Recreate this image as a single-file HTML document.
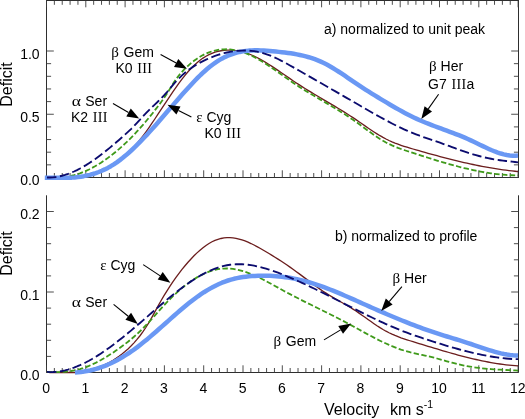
<!DOCTYPE html>
<html><head><meta charset="utf-8"><title>Deficit vs Velocity</title>
<style>html,body{margin:0;padding:0;background:#fff;}body{width:525px;height:419px;overflow:hidden;font-family:"Liberation Sans",sans-serif;}svg{display:block;}</style>
</head><body>
<svg width="525" height="419" viewBox="0 0 525 419" style="will-change:transform">
<rect width="525" height="419" fill="#fff"/>
<g>
<g stroke="#2e2e2e" stroke-width="1" fill="none">
<rect x="46.5" y="0.5" width="472.0" height="177.0"/>
<path d="M46.5,195.3 V372.5 H518.5 V195.3"/>
</g>
<g stroke="#3a3a3a" stroke-width="0.9" fill="none">
<line x1="46.50" y1="177.50" x2="46.50" y2="170.30"/>
<line x1="46.50" y1="0.50" x2="46.50" y2="7.30"/>
<line x1="46.50" y1="372.50" x2="46.50" y2="365.30"/>
<line x1="54.36" y1="177.50" x2="54.36" y2="173.00"/>
<line x1="54.36" y1="0.50" x2="54.36" y2="4.80"/>
<line x1="54.36" y1="372.50" x2="54.36" y2="368.00"/>
<line x1="62.22" y1="177.50" x2="62.22" y2="173.00"/>
<line x1="62.22" y1="0.50" x2="62.22" y2="4.80"/>
<line x1="62.22" y1="372.50" x2="62.22" y2="368.00"/>
<line x1="70.08" y1="177.50" x2="70.08" y2="173.00"/>
<line x1="70.08" y1="0.50" x2="70.08" y2="4.80"/>
<line x1="70.08" y1="372.50" x2="70.08" y2="368.00"/>
<line x1="77.94" y1="177.50" x2="77.94" y2="173.00"/>
<line x1="77.94" y1="0.50" x2="77.94" y2="4.80"/>
<line x1="77.94" y1="372.50" x2="77.94" y2="368.00"/>
<line x1="85.80" y1="177.50" x2="85.80" y2="170.30"/>
<line x1="85.80" y1="0.50" x2="85.80" y2="7.30"/>
<line x1="85.80" y1="372.50" x2="85.80" y2="365.30"/>
<line x1="93.66" y1="177.50" x2="93.66" y2="173.00"/>
<line x1="93.66" y1="0.50" x2="93.66" y2="4.80"/>
<line x1="93.66" y1="372.50" x2="93.66" y2="368.00"/>
<line x1="101.52" y1="177.50" x2="101.52" y2="173.00"/>
<line x1="101.52" y1="0.50" x2="101.52" y2="4.80"/>
<line x1="101.52" y1="372.50" x2="101.52" y2="368.00"/>
<line x1="109.38" y1="177.50" x2="109.38" y2="173.00"/>
<line x1="109.38" y1="0.50" x2="109.38" y2="4.80"/>
<line x1="109.38" y1="372.50" x2="109.38" y2="368.00"/>
<line x1="117.24" y1="177.50" x2="117.24" y2="173.00"/>
<line x1="117.24" y1="0.50" x2="117.24" y2="4.80"/>
<line x1="117.24" y1="372.50" x2="117.24" y2="368.00"/>
<line x1="125.10" y1="177.50" x2="125.10" y2="170.30"/>
<line x1="125.10" y1="0.50" x2="125.10" y2="7.30"/>
<line x1="125.10" y1="372.50" x2="125.10" y2="365.30"/>
<line x1="132.96" y1="177.50" x2="132.96" y2="173.00"/>
<line x1="132.96" y1="0.50" x2="132.96" y2="4.80"/>
<line x1="132.96" y1="372.50" x2="132.96" y2="368.00"/>
<line x1="140.82" y1="177.50" x2="140.82" y2="173.00"/>
<line x1="140.82" y1="0.50" x2="140.82" y2="4.80"/>
<line x1="140.82" y1="372.50" x2="140.82" y2="368.00"/>
<line x1="148.68" y1="177.50" x2="148.68" y2="173.00"/>
<line x1="148.68" y1="0.50" x2="148.68" y2="4.80"/>
<line x1="148.68" y1="372.50" x2="148.68" y2="368.00"/>
<line x1="156.54" y1="177.50" x2="156.54" y2="173.00"/>
<line x1="156.54" y1="0.50" x2="156.54" y2="4.80"/>
<line x1="156.54" y1="372.50" x2="156.54" y2="368.00"/>
<line x1="164.40" y1="177.50" x2="164.40" y2="170.30"/>
<line x1="164.40" y1="0.50" x2="164.40" y2="7.30"/>
<line x1="164.40" y1="372.50" x2="164.40" y2="365.30"/>
<line x1="172.26" y1="177.50" x2="172.26" y2="173.00"/>
<line x1="172.26" y1="0.50" x2="172.26" y2="4.80"/>
<line x1="172.26" y1="372.50" x2="172.26" y2="368.00"/>
<line x1="180.12" y1="177.50" x2="180.12" y2="173.00"/>
<line x1="180.12" y1="0.50" x2="180.12" y2="4.80"/>
<line x1="180.12" y1="372.50" x2="180.12" y2="368.00"/>
<line x1="187.98" y1="177.50" x2="187.98" y2="173.00"/>
<line x1="187.98" y1="0.50" x2="187.98" y2="4.80"/>
<line x1="187.98" y1="372.50" x2="187.98" y2="368.00"/>
<line x1="195.84" y1="177.50" x2="195.84" y2="173.00"/>
<line x1="195.84" y1="0.50" x2="195.84" y2="4.80"/>
<line x1="195.84" y1="372.50" x2="195.84" y2="368.00"/>
<line x1="203.70" y1="177.50" x2="203.70" y2="170.30"/>
<line x1="203.70" y1="0.50" x2="203.70" y2="7.30"/>
<line x1="203.70" y1="372.50" x2="203.70" y2="365.30"/>
<line x1="211.56" y1="177.50" x2="211.56" y2="173.00"/>
<line x1="211.56" y1="0.50" x2="211.56" y2="4.80"/>
<line x1="211.56" y1="372.50" x2="211.56" y2="368.00"/>
<line x1="219.42" y1="177.50" x2="219.42" y2="173.00"/>
<line x1="219.42" y1="0.50" x2="219.42" y2="4.80"/>
<line x1="219.42" y1="372.50" x2="219.42" y2="368.00"/>
<line x1="227.28" y1="177.50" x2="227.28" y2="173.00"/>
<line x1="227.28" y1="0.50" x2="227.28" y2="4.80"/>
<line x1="227.28" y1="372.50" x2="227.28" y2="368.00"/>
<line x1="235.14" y1="177.50" x2="235.14" y2="173.00"/>
<line x1="235.14" y1="0.50" x2="235.14" y2="4.80"/>
<line x1="235.14" y1="372.50" x2="235.14" y2="368.00"/>
<line x1="243.00" y1="177.50" x2="243.00" y2="170.30"/>
<line x1="243.00" y1="0.50" x2="243.00" y2="7.30"/>
<line x1="243.00" y1="372.50" x2="243.00" y2="365.30"/>
<line x1="250.86" y1="177.50" x2="250.86" y2="173.00"/>
<line x1="250.86" y1="0.50" x2="250.86" y2="4.80"/>
<line x1="250.86" y1="372.50" x2="250.86" y2="368.00"/>
<line x1="258.72" y1="177.50" x2="258.72" y2="173.00"/>
<line x1="258.72" y1="0.50" x2="258.72" y2="4.80"/>
<line x1="258.72" y1="372.50" x2="258.72" y2="368.00"/>
<line x1="266.58" y1="177.50" x2="266.58" y2="173.00"/>
<line x1="266.58" y1="0.50" x2="266.58" y2="4.80"/>
<line x1="266.58" y1="372.50" x2="266.58" y2="368.00"/>
<line x1="274.44" y1="177.50" x2="274.44" y2="173.00"/>
<line x1="274.44" y1="0.50" x2="274.44" y2="4.80"/>
<line x1="274.44" y1="372.50" x2="274.44" y2="368.00"/>
<line x1="282.30" y1="177.50" x2="282.30" y2="170.30"/>
<line x1="282.30" y1="0.50" x2="282.30" y2="7.30"/>
<line x1="282.30" y1="372.50" x2="282.30" y2="365.30"/>
<line x1="290.16" y1="177.50" x2="290.16" y2="173.00"/>
<line x1="290.16" y1="0.50" x2="290.16" y2="4.80"/>
<line x1="290.16" y1="372.50" x2="290.16" y2="368.00"/>
<line x1="298.02" y1="177.50" x2="298.02" y2="173.00"/>
<line x1="298.02" y1="0.50" x2="298.02" y2="4.80"/>
<line x1="298.02" y1="372.50" x2="298.02" y2="368.00"/>
<line x1="305.88" y1="177.50" x2="305.88" y2="173.00"/>
<line x1="305.88" y1="0.50" x2="305.88" y2="4.80"/>
<line x1="305.88" y1="372.50" x2="305.88" y2="368.00"/>
<line x1="313.74" y1="177.50" x2="313.74" y2="173.00"/>
<line x1="313.74" y1="0.50" x2="313.74" y2="4.80"/>
<line x1="313.74" y1="372.50" x2="313.74" y2="368.00"/>
<line x1="321.60" y1="177.50" x2="321.60" y2="170.30"/>
<line x1="321.60" y1="0.50" x2="321.60" y2="7.30"/>
<line x1="321.60" y1="372.50" x2="321.60" y2="365.30"/>
<line x1="329.46" y1="177.50" x2="329.46" y2="173.00"/>
<line x1="329.46" y1="0.50" x2="329.46" y2="4.80"/>
<line x1="329.46" y1="372.50" x2="329.46" y2="368.00"/>
<line x1="337.32" y1="177.50" x2="337.32" y2="173.00"/>
<line x1="337.32" y1="0.50" x2="337.32" y2="4.80"/>
<line x1="337.32" y1="372.50" x2="337.32" y2="368.00"/>
<line x1="345.18" y1="177.50" x2="345.18" y2="173.00"/>
<line x1="345.18" y1="0.50" x2="345.18" y2="4.80"/>
<line x1="345.18" y1="372.50" x2="345.18" y2="368.00"/>
<line x1="353.04" y1="177.50" x2="353.04" y2="173.00"/>
<line x1="353.04" y1="0.50" x2="353.04" y2="4.80"/>
<line x1="353.04" y1="372.50" x2="353.04" y2="368.00"/>
<line x1="360.90" y1="177.50" x2="360.90" y2="170.30"/>
<line x1="360.90" y1="0.50" x2="360.90" y2="7.30"/>
<line x1="360.90" y1="372.50" x2="360.90" y2="365.30"/>
<line x1="368.76" y1="177.50" x2="368.76" y2="173.00"/>
<line x1="368.76" y1="0.50" x2="368.76" y2="4.80"/>
<line x1="368.76" y1="372.50" x2="368.76" y2="368.00"/>
<line x1="376.62" y1="177.50" x2="376.62" y2="173.00"/>
<line x1="376.62" y1="0.50" x2="376.62" y2="4.80"/>
<line x1="376.62" y1="372.50" x2="376.62" y2="368.00"/>
<line x1="384.48" y1="177.50" x2="384.48" y2="173.00"/>
<line x1="384.48" y1="0.50" x2="384.48" y2="4.80"/>
<line x1="384.48" y1="372.50" x2="384.48" y2="368.00"/>
<line x1="392.34" y1="177.50" x2="392.34" y2="173.00"/>
<line x1="392.34" y1="0.50" x2="392.34" y2="4.80"/>
<line x1="392.34" y1="372.50" x2="392.34" y2="368.00"/>
<line x1="400.20" y1="177.50" x2="400.20" y2="170.30"/>
<line x1="400.20" y1="0.50" x2="400.20" y2="7.30"/>
<line x1="400.20" y1="372.50" x2="400.20" y2="365.30"/>
<line x1="408.06" y1="177.50" x2="408.06" y2="173.00"/>
<line x1="408.06" y1="0.50" x2="408.06" y2="4.80"/>
<line x1="408.06" y1="372.50" x2="408.06" y2="368.00"/>
<line x1="415.92" y1="177.50" x2="415.92" y2="173.00"/>
<line x1="415.92" y1="0.50" x2="415.92" y2="4.80"/>
<line x1="415.92" y1="372.50" x2="415.92" y2="368.00"/>
<line x1="423.78" y1="177.50" x2="423.78" y2="173.00"/>
<line x1="423.78" y1="0.50" x2="423.78" y2="4.80"/>
<line x1="423.78" y1="372.50" x2="423.78" y2="368.00"/>
<line x1="431.64" y1="177.50" x2="431.64" y2="173.00"/>
<line x1="431.64" y1="0.50" x2="431.64" y2="4.80"/>
<line x1="431.64" y1="372.50" x2="431.64" y2="368.00"/>
<line x1="439.50" y1="177.50" x2="439.50" y2="170.30"/>
<line x1="439.50" y1="0.50" x2="439.50" y2="7.30"/>
<line x1="439.50" y1="372.50" x2="439.50" y2="365.30"/>
<line x1="447.36" y1="177.50" x2="447.36" y2="173.00"/>
<line x1="447.36" y1="0.50" x2="447.36" y2="4.80"/>
<line x1="447.36" y1="372.50" x2="447.36" y2="368.00"/>
<line x1="455.22" y1="177.50" x2="455.22" y2="173.00"/>
<line x1="455.22" y1="0.50" x2="455.22" y2="4.80"/>
<line x1="455.22" y1="372.50" x2="455.22" y2="368.00"/>
<line x1="463.08" y1="177.50" x2="463.08" y2="173.00"/>
<line x1="463.08" y1="0.50" x2="463.08" y2="4.80"/>
<line x1="463.08" y1="372.50" x2="463.08" y2="368.00"/>
<line x1="470.94" y1="177.50" x2="470.94" y2="173.00"/>
<line x1="470.94" y1="0.50" x2="470.94" y2="4.80"/>
<line x1="470.94" y1="372.50" x2="470.94" y2="368.00"/>
<line x1="478.80" y1="177.50" x2="478.80" y2="170.30"/>
<line x1="478.80" y1="0.50" x2="478.80" y2="7.30"/>
<line x1="478.80" y1="372.50" x2="478.80" y2="365.30"/>
<line x1="486.66" y1="177.50" x2="486.66" y2="173.00"/>
<line x1="486.66" y1="0.50" x2="486.66" y2="4.80"/>
<line x1="486.66" y1="372.50" x2="486.66" y2="368.00"/>
<line x1="494.52" y1="177.50" x2="494.52" y2="173.00"/>
<line x1="494.52" y1="0.50" x2="494.52" y2="4.80"/>
<line x1="494.52" y1="372.50" x2="494.52" y2="368.00"/>
<line x1="502.38" y1="177.50" x2="502.38" y2="173.00"/>
<line x1="502.38" y1="0.50" x2="502.38" y2="4.80"/>
<line x1="502.38" y1="372.50" x2="502.38" y2="368.00"/>
<line x1="510.24" y1="177.50" x2="510.24" y2="173.00"/>
<line x1="510.24" y1="0.50" x2="510.24" y2="4.80"/>
<line x1="510.24" y1="372.50" x2="510.24" y2="368.00"/>
<line x1="518.10" y1="177.50" x2="518.10" y2="170.30"/>
<line x1="518.10" y1="0.50" x2="518.10" y2="7.30"/>
<line x1="518.10" y1="372.50" x2="518.10" y2="365.30"/>
<line x1="46.50" y1="177.50" x2="53.80" y2="177.50"/>
<line x1="518.50" y1="177.50" x2="511.20" y2="177.50"/>
<line x1="46.50" y1="164.85" x2="51.10" y2="164.85"/>
<line x1="518.50" y1="164.85" x2="513.90" y2="164.85"/>
<line x1="46.50" y1="152.20" x2="51.10" y2="152.20"/>
<line x1="518.50" y1="152.20" x2="513.90" y2="152.20"/>
<line x1="46.50" y1="139.55" x2="51.10" y2="139.55"/>
<line x1="518.50" y1="139.55" x2="513.90" y2="139.55"/>
<line x1="46.50" y1="126.90" x2="51.10" y2="126.90"/>
<line x1="518.50" y1="126.90" x2="513.90" y2="126.90"/>
<line x1="46.50" y1="114.25" x2="53.80" y2="114.25"/>
<line x1="518.50" y1="114.25" x2="511.20" y2="114.25"/>
<line x1="46.50" y1="101.60" x2="51.10" y2="101.60"/>
<line x1="518.50" y1="101.60" x2="513.90" y2="101.60"/>
<line x1="46.50" y1="88.95" x2="51.10" y2="88.95"/>
<line x1="518.50" y1="88.95" x2="513.90" y2="88.95"/>
<line x1="46.50" y1="76.30" x2="51.10" y2="76.30"/>
<line x1="518.50" y1="76.30" x2="513.90" y2="76.30"/>
<line x1="46.50" y1="63.65" x2="51.10" y2="63.65"/>
<line x1="518.50" y1="63.65" x2="513.90" y2="63.65"/>
<line x1="46.50" y1="51.00" x2="53.80" y2="51.00"/>
<line x1="518.50" y1="51.00" x2="511.20" y2="51.00"/>
<line x1="46.50" y1="372.50" x2="53.80" y2="372.50"/>
<line x1="518.50" y1="372.50" x2="511.20" y2="372.50"/>
<line x1="46.50" y1="356.40" x2="51.10" y2="356.40"/>
<line x1="518.50" y1="356.40" x2="513.90" y2="356.40"/>
<line x1="46.50" y1="340.30" x2="51.10" y2="340.30"/>
<line x1="518.50" y1="340.30" x2="513.90" y2="340.30"/>
<line x1="46.50" y1="324.20" x2="51.10" y2="324.20"/>
<line x1="518.50" y1="324.20" x2="513.90" y2="324.20"/>
<line x1="46.50" y1="308.10" x2="51.10" y2="308.10"/>
<line x1="518.50" y1="308.10" x2="513.90" y2="308.10"/>
<line x1="46.50" y1="292.00" x2="53.80" y2="292.00"/>
<line x1="518.50" y1="292.00" x2="511.20" y2="292.00"/>
<line x1="46.50" y1="275.90" x2="51.10" y2="275.90"/>
<line x1="518.50" y1="275.90" x2="513.90" y2="275.90"/>
<line x1="46.50" y1="259.80" x2="51.10" y2="259.80"/>
<line x1="518.50" y1="259.80" x2="513.90" y2="259.80"/>
<line x1="46.50" y1="243.70" x2="51.10" y2="243.70"/>
<line x1="518.50" y1="243.70" x2="513.90" y2="243.70"/>
<line x1="46.50" y1="227.60" x2="51.10" y2="227.60"/>
<line x1="518.50" y1="227.60" x2="513.90" y2="227.60"/>
<line x1="46.50" y1="211.50" x2="53.80" y2="211.50"/>
<line x1="518.50" y1="211.50" x2="511.20" y2="211.50"/>
</g>
<path d="M47.0,177.50 L50.0,177.50 L53.0,177.50 L56.0,177.50 L59.0,177.50 L62.0,177.50 L65.0,177.50 L68.0,177.50 L71.0,177.50 L74.0,177.50 L77.0,177.50 L80.0,177.22 L83.0,176.74 L86.0,176.16 L89.0,175.46 L92.0,174.65 L95.0,173.71 L98.0,172.63 L101.0,171.42 L104.0,170.06 L107.0,168.55 L110.0,166.87 L113.0,165.03 L116.0,163.01 L119.0,160.82 L122.0,158.43 L125.0,155.84 L128.0,153.06 L131.0,150.06 L134.0,146.85 L137.0,143.41 L140.0,139.75 L143.0,135.86 L146.0,131.79 L149.0,127.56 L152.0,123.21 L155.0,118.75 L158.0,114.23 L161.0,109.67 L164.0,105.10 L167.0,100.56 L170.0,96.06 L173.0,91.65 L176.0,87.35 L179.0,83.18 L182.0,79.18 L185.0,75.37 L188.0,71.79 L191.0,68.46 L194.0,65.41 L197.0,62.66 L200.0,60.23 L203.0,58.09 L206.0,56.23 L209.0,54.65 L212.0,53.32 L215.0,52.24 L218.0,51.39 L221.0,50.76 L224.0,50.33 L227.0,50.10 L230.0,50.06 L233.0,50.20 L236.0,50.52 L239.0,51.02 L242.0,51.70 L245.0,52.55 L248.0,53.58 L251.0,54.76 L254.0,56.08 L257.0,57.54 L260.0,59.12 L263.0,60.81 L266.0,62.59 L269.0,64.45 L272.0,66.37 L275.0,68.36 L278.0,70.38 L281.0,72.44 L284.0,74.51 L287.0,76.58 L290.0,78.64 L293.0,80.68 L296.0,82.69 L299.0,84.65 L302.0,86.58 L305.0,88.47 L308.0,90.33 L311.0,92.16 L314.0,93.97 L317.0,95.77 L320.0,97.55 L323.0,99.32 L326.0,101.09 L329.0,102.86 L332.0,104.64 L335.0,106.43 L338.0,108.23 L341.0,110.05 L344.0,111.90 L347.0,113.78 L350.0,115.70 L353.0,117.65 L356.0,119.66 L359.0,121.70 L362.0,123.78 L365.0,125.85 L368.0,127.92 L371.0,129.95 L374.0,131.94 L377.0,133.85 L380.0,135.68 L383.0,137.41 L386.0,139.00 L389.0,140.47 L392.0,141.82 L395.0,143.06 L398.0,144.20 L401.0,145.27 L404.0,146.27 L407.0,147.22 L410.0,148.12 L413.0,149.00 L416.0,149.87 L419.0,150.73 L422.0,151.58 L425.0,152.43 L428.0,153.27 L431.0,154.10 L434.0,154.92 L437.0,155.74 L440.0,156.54 L443.0,157.33 L446.0,158.11 L449.0,158.88 L452.0,159.64 L455.0,160.38 L458.0,161.11 L461.0,161.82 L464.0,162.52 L467.0,163.20 L470.0,163.86 L473.0,164.51 L476.0,165.13 L479.0,165.74 L482.0,166.33 L485.0,166.89 L488.0,167.44 L491.0,167.96 L494.0,168.46 L497.0,168.94 L500.0,169.39 L503.0,169.82 L506.0,170.22 L509.0,170.59 L512.0,170.94 L515.0,171.26 L518.0,171.55" fill="none" stroke="#6b1d1d" stroke-width="1.3"/>
<path d="M47.0,177.50 L50.0,177.50 L53.0,177.50 L56.0,177.50 L59.0,177.50 L62.0,177.50 L65.0,177.16 L68.0,176.63 L71.0,175.98 L74.0,175.21 L77.0,174.31 L80.0,173.28 L83.0,172.13 L86.0,170.86 L89.0,169.47 L92.0,167.95 L95.0,166.32 L98.0,164.57 L101.0,162.70 L104.0,160.71 L107.0,158.61 L110.0,156.39 L113.0,154.06 L116.0,151.62 L119.0,149.07 L122.0,146.41 L125.0,143.64 L128.0,140.76 L131.0,137.78 L134.0,134.69 L137.0,131.49 L140.0,128.19 L143.0,124.79 L146.0,121.28 L149.0,117.68 L152.0,113.96 L155.0,110.15 L158.0,106.24 L161.0,102.23 L164.0,98.05 L167.0,93.57 L170.0,88.73 L173.0,83.83 L176.0,79.28 L179.0,75.31 L182.0,71.81 L185.0,68.68 L188.0,65.81 L191.0,63.19 L194.0,60.81 L197.0,58.67 L200.0,56.76 L203.0,55.08 L206.0,53.62 L209.0,52.37 L212.0,51.35 L215.0,50.53 L218.0,49.92 L221.0,49.51 L224.0,49.29 L227.0,49.27 L230.0,49.44 L233.0,49.79 L236.0,50.32 L239.0,51.02 L242.0,51.90 L245.0,52.94 L248.0,54.14 L251.0,55.48 L254.0,56.97 L257.0,58.57 L260.0,60.29 L263.0,62.10 L266.0,64.00 L269.0,65.96 L272.0,67.98 L275.0,70.05 L278.0,72.15 L281.0,74.27 L284.0,76.39 L287.0,78.50 L290.0,80.60 L293.0,82.66 L296.0,84.67 L299.0,86.63 L302.0,88.55 L305.0,90.42 L308.0,92.26 L311.0,94.06 L314.0,95.85 L317.0,97.62 L320.0,99.38 L323.0,101.13 L326.0,102.89 L329.0,104.65 L332.0,106.43 L335.0,108.23 L338.0,110.05 L341.0,111.91 L344.0,113.80 L347.0,115.74 L350.0,117.73 L353.0,119.77 L356.0,121.88 L359.0,124.05 L362.0,126.25 L365.0,128.46 L368.0,130.67 L371.0,132.85 L374.0,134.97 L377.0,137.01 L380.0,138.96 L383.0,140.79 L386.0,142.47 L389.0,144.00 L392.0,145.40 L395.0,146.68 L398.0,147.87 L401.0,148.97 L404.0,150.01 L407.0,151.01 L410.0,151.99 L413.0,152.96 L416.0,153.92 L419.0,154.89 L422.0,155.85 L425.0,156.80 L428.0,157.75 L431.0,158.69 L434.0,159.62 L437.0,160.53 L440.0,161.44 L443.0,162.33 L446.0,163.20 L449.0,164.05 L452.0,164.89 L455.0,165.71 L458.0,166.50 L461.0,167.27 L464.0,168.02 L467.0,168.73 L470.0,169.42 L473.0,170.09 L476.0,170.72 L479.0,171.31 L482.0,171.87 L485.0,172.40 L488.0,172.89 L491.0,173.34 L494.0,173.75 L497.0,174.12 L500.0,174.44 L503.0,174.72 L506.0,174.96 L509.0,175.14 L512.0,175.27 L515.0,175.36 L518.0,175.39" fill="none" stroke="#3f9a1a" stroke-width="1.8" stroke-dasharray="5.4,2.4"/>
<path d="M44.8,177.72 L47.8,177.80 L50.8,177.80 L53.8,177.80 L56.8,177.80 L59.8,177.80 L62.8,177.80 L65.8,177.80 L68.8,177.80 L71.8,177.63 L74.8,177.39 L77.8,177.06 L80.8,176.66 L83.8,176.16 L86.8,175.56 L89.8,174.85 L92.8,174.02 L95.8,173.08 L98.8,172.00 L101.8,170.78 L104.8,169.41 L107.8,167.88 L110.8,166.20 L113.8,164.34 L116.8,162.31 L119.8,160.13 L122.8,157.80 L125.8,155.33 L128.8,152.72 L131.8,150.00 L134.8,147.16 L137.8,144.21 L140.8,141.18 L143.8,138.05 L146.8,134.85 L149.8,131.59 L152.8,128.26 L155.8,124.89 L158.8,121.48 L161.8,118.03 L164.8,114.57 L167.8,111.09 L170.8,107.61 L173.8,104.13 L176.8,100.67 L179.8,97.23 L182.8,93.83 L185.8,90.46 L188.8,87.15 L191.8,83.91 L194.8,80.76 L197.8,77.70 L200.8,74.76 L203.8,71.95 L206.8,69.28 L209.8,66.78 L212.8,64.46 L215.8,62.32 L218.8,60.39 L221.8,58.66 L224.8,57.11 L227.8,55.74 L230.8,54.55 L233.8,53.52 L236.8,52.65 L239.8,51.93 L242.8,51.36 L245.8,50.92 L248.8,50.62 L251.8,50.42 L254.8,50.34 L257.8,50.34 L260.8,50.42 L263.8,50.57 L266.8,50.78 L269.8,51.02 L272.8,51.29 L275.8,51.58 L278.8,51.88 L281.8,52.20 L284.8,52.55 L287.8,52.93 L290.8,53.35 L293.8,53.82 L296.8,54.35 L299.8,54.95 L302.8,55.62 L305.8,56.38 L308.8,57.22 L311.8,58.16 L314.8,59.20 L317.8,60.35 L320.8,61.62 L323.8,63.02 L326.8,64.55 L329.8,66.20 L332.8,67.96 L335.8,69.81 L338.8,71.73 L341.8,73.72 L344.8,75.74 L347.8,77.79 L350.8,79.85 L353.8,81.89 L356.8,83.91 L359.8,85.90 L362.8,87.86 L365.8,89.78 L368.8,91.69 L371.8,93.57 L374.8,95.43 L377.8,97.27 L380.8,99.09 L383.8,100.89 L386.8,102.69 L389.8,104.46 L392.8,106.22 L395.8,107.95 L398.8,109.65 L401.8,111.31 L404.8,112.93 L407.8,114.51 L410.8,116.03 L413.8,117.49 L416.8,118.89 L419.8,120.23 L422.8,121.51 L425.8,122.75 L428.8,123.94 L431.8,125.11 L434.8,126.24 L437.8,127.36 L440.8,128.46 L443.8,129.56 L446.8,130.66 L449.8,131.77 L452.8,132.89 L455.8,134.04 L458.8,135.21 L461.8,136.42 L464.8,137.68 L467.8,138.98 L470.8,140.34 L473.8,141.76 L476.8,143.21 L479.8,144.68 L482.8,146.13 L485.8,147.56 L488.8,148.94 L491.8,150.25 L494.8,151.47 L497.8,152.57 L500.8,153.54 L503.8,154.35 L506.8,154.99 L509.8,155.45 L512.8,155.69 L515.8,155.72 L518.0,155.58" fill="none" stroke="#6a98f4" stroke-width="4.5" stroke-linecap="butt" stroke-linejoin="round"/>
<path d="M47.0,177.50 L50.0,177.50 L53.0,177.34 L56.0,176.98 L59.0,176.45 L62.0,175.75 L65.0,174.90 L68.0,173.90 L71.0,172.76 L74.0,171.48 L77.0,170.06 L80.0,168.53 L83.0,166.87 L86.0,165.10 L89.0,163.22 L92.0,161.25 L95.0,159.17 L98.0,157.01 L101.0,154.77 L104.0,152.46 L107.0,150.07 L110.0,147.62 L113.0,145.11 L116.0,142.55 L119.0,139.95 L122.0,137.31 L125.0,134.63 L128.0,131.91 L131.0,129.09 L134.0,126.09 L137.0,122.86 L140.0,119.54 L143.0,116.29 L146.0,113.16 L149.0,110.13 L152.0,107.21 L155.0,104.35 L158.0,101.48 L161.0,98.53 L164.0,95.44 L167.0,92.12 L170.0,88.56 L173.0,84.94 L176.0,81.47 L179.0,78.29 L182.0,75.39 L185.0,72.74 L188.0,70.33 L191.0,68.14 L194.0,66.14 L197.0,64.31 L200.0,62.64 L203.0,61.10 L206.0,59.67 L209.0,58.34 L212.0,57.10 L215.0,55.97 L218.0,54.94 L221.0,54.02 L224.0,53.19 L227.0,52.48 L230.0,51.87 L233.0,51.37 L236.0,50.99 L239.0,50.71 L242.0,50.56 L245.0,50.52 L248.0,50.61 L251.0,50.83 L254.0,51.19 L257.0,51.68 L260.0,52.31 L263.0,53.09 L266.0,54.02 L269.0,55.09 L272.0,56.29 L275.0,57.61 L278.0,59.04 L281.0,60.55 L284.0,62.13 L287.0,63.76 L290.0,65.44 L293.0,67.14 L296.0,68.85 L299.0,70.56 L302.0,72.27 L305.0,73.99 L308.0,75.70 L311.0,77.41 L314.0,79.13 L317.0,80.84 L320.0,82.56 L323.0,84.27 L326.0,85.99 L329.0,87.71 L332.0,89.44 L335.0,91.16 L338.0,92.89 L341.0,94.61 L344.0,96.35 L347.0,98.08 L350.0,99.81 L353.0,101.55 L356.0,103.29 L359.0,105.04 L362.0,106.78 L365.0,108.52 L368.0,110.25 L371.0,111.97 L374.0,113.67 L377.0,115.36 L380.0,117.03 L383.0,118.68 L386.0,120.30 L389.0,121.89 L392.0,123.45 L395.0,124.97 L398.0,126.45 L401.0,127.89 L404.0,129.29 L407.0,130.64 L410.0,131.94 L413.0,133.18 L416.0,134.36 L419.0,135.49 L422.0,136.58 L425.0,137.63 L428.0,138.65 L431.0,139.67 L434.0,140.68 L437.0,141.70 L440.0,142.73 L443.0,143.80 L446.0,144.89 L449.0,145.99 L452.0,147.09 L455.0,148.20 L458.0,149.29 L461.0,150.36 L464.0,151.41 L467.0,152.43 L470.0,153.40 L473.0,154.32 L476.0,155.18 L479.0,156.00 L482.0,156.77 L485.0,157.48 L488.0,158.14 L491.0,158.74 L494.0,159.30 L497.0,159.79 L500.0,160.24 L503.0,160.63 L506.0,160.98 L509.0,161.31 L512.0,161.63 L515.0,161.96 L518.0,162.31" fill="none" stroke="#0b0b6e" stroke-width="1.85" stroke-dasharray="9.4,3.6"/>
<path d="M47.0,371.99 L50.0,372.50 L53.0,372.50 L56.0,372.50 L59.0,372.50 L62.0,372.50 L65.0,372.50 L68.0,372.50 L71.0,372.50 L74.0,372.50 L77.0,372.50 L80.0,372.50 L83.0,372.50 L86.0,372.06 L89.0,371.18 L92.0,370.18 L95.0,369.07 L98.0,367.86 L101.0,366.54 L104.0,365.12 L107.0,363.60 L110.0,361.97 L113.0,360.21 L116.0,358.31 L119.0,356.24 L122.0,354.00 L125.0,351.56 L128.0,348.90 L131.0,346.00 L134.0,342.86 L137.0,339.45 L140.0,335.73 L143.0,331.68 L146.0,327.25 L149.0,322.40 L152.0,317.11 L155.0,311.57 L158.0,306.10 L161.0,300.80 L164.0,295.70 L167.0,290.79 L170.0,286.10 L173.0,281.61 L176.0,277.35 L179.0,273.30 L182.0,269.45 L185.0,265.78 L188.0,262.28 L191.0,258.95 L194.0,255.81 L197.0,252.88 L200.0,250.16 L203.0,247.68 L206.0,245.45 L209.0,243.48 L212.0,241.78 L215.0,240.38 L218.0,239.29 L221.0,238.49 L224.0,237.96 L227.0,237.71 L230.0,237.70 L233.0,237.94 L236.0,238.40 L239.0,239.06 L242.0,239.93 L245.0,240.98 L248.0,242.19 L251.0,243.54 L254.0,245.01 L257.0,246.58 L260.0,248.24 L263.0,249.96 L266.0,251.72 L269.0,253.52 L272.0,255.35 L275.0,257.21 L278.0,259.11 L281.0,261.05 L284.0,263.03 L287.0,265.06 L290.0,267.13 L293.0,269.25 L296.0,271.41 L299.0,273.63 L302.0,275.87 L305.0,278.13 L308.0,280.39 L311.0,282.64 L314.0,284.86 L317.0,287.03 L320.0,289.15 L323.0,291.20 L326.0,293.16 L329.0,295.04 L332.0,296.84 L335.0,298.59 L338.0,300.31 L341.0,302.02 L344.0,303.74 L347.0,305.48 L350.0,307.27 L353.0,309.12 L356.0,311.06 L359.0,313.09 L362.0,315.18 L365.0,317.31 L368.0,319.45 L371.0,321.59 L374.0,323.68 L377.0,325.72 L380.0,327.66 L383.0,329.50 L386.0,331.20 L389.0,332.75 L392.0,334.17 L395.0,335.47 L398.0,336.66 L401.0,337.78 L404.0,338.82 L407.0,339.80 L410.0,340.75 L413.0,341.68 L416.0,342.59 L419.0,343.51 L422.0,344.43 L425.0,345.35 L428.0,346.26 L431.0,347.17 L434.0,348.08 L437.0,348.98 L440.0,349.88 L443.0,350.76 L446.0,351.64 L449.0,352.50 L452.0,353.35 L455.0,354.19 L458.0,355.01 L461.0,355.81 L464.0,356.59 L467.0,357.35 L470.0,358.09 L473.0,358.81 L476.0,359.50 L479.0,360.17 L482.0,360.81 L485.0,361.42 L488.0,362.00 L491.0,362.55 L494.0,363.07 L497.0,363.55 L500.0,364.00 L503.0,364.40 L506.0,364.78 L509.0,365.11 L512.0,365.39 L515.0,365.64 L518.0,365.84" fill="none" stroke="#6b1d1d" stroke-width="1.3"/>
<path d="M47.0,371.86 L50.0,372.04 L53.0,372.15 L56.0,372.19 L59.0,372.14 L62.0,372.00 L65.0,371.77 L68.0,371.43 L71.0,371.00 L74.0,370.45 L77.0,369.79 L80.0,369.01 L83.0,368.10 L86.0,367.06 L89.0,365.89 L92.0,364.59 L95.0,363.18 L98.0,361.66 L101.0,360.03 L104.0,358.31 L107.0,356.49 L110.0,354.60 L113.0,352.63 L116.0,350.60 L119.0,348.50 L122.0,346.32 L125.0,344.06 L128.0,341.72 L131.0,339.27 L134.0,336.71 L137.0,334.04 L140.0,331.25 L143.0,328.32 L146.0,325.25 L149.0,322.05 L152.0,318.75 L155.0,315.40 L158.0,312.03 L161.0,308.68 L164.0,305.39 L167.0,302.20 L170.0,299.13 L173.0,296.17 L176.0,293.34 L179.0,290.64 L182.0,288.08 L185.0,285.65 L188.0,283.36 L191.0,281.21 L194.0,279.22 L197.0,277.38 L200.0,275.71 L203.0,274.19 L206.0,272.84 L209.0,271.67 L212.0,270.67 L215.0,269.85 L218.0,269.22 L221.0,268.78 L224.0,268.53 L227.0,268.47 L230.0,268.61 L233.0,268.93 L236.0,269.42 L239.0,270.07 L242.0,270.86 L245.0,271.79 L248.0,272.85 L251.0,274.01 L254.0,275.27 L257.0,276.63 L260.0,278.06 L263.0,279.56 L266.0,281.11 L269.0,282.71 L272.0,284.34 L275.0,285.99 L278.0,287.65 L281.0,289.31 L284.0,290.95 L287.0,292.58 L290.0,294.17 L293.0,295.74 L296.0,297.29 L299.0,298.82 L302.0,300.33 L305.0,301.84 L308.0,303.33 L311.0,304.81 L314.0,306.29 L317.0,307.76 L320.0,309.24 L323.0,310.72 L326.0,312.20 L329.0,313.70 L332.0,315.20 L335.0,316.72 L338.0,318.26 L341.0,319.81 L344.0,321.39 L347.0,322.99 L350.0,324.61 L353.0,326.25 L356.0,327.90 L359.0,329.55 L362.0,331.20 L365.0,332.84 L368.0,334.46 L371.0,336.06 L374.0,337.64 L377.0,339.18 L380.0,340.69 L383.0,342.14 L386.0,343.55 L389.0,344.90 L392.0,346.19 L395.0,347.40 L398.0,348.54 L401.0,349.60 L404.0,350.57 L407.0,351.44 L410.0,352.24 L413.0,352.96 L416.0,353.64 L419.0,354.29 L422.0,354.93 L425.0,355.57 L428.0,356.24 L431.0,356.95 L434.0,357.71 L437.0,358.50 L440.0,359.33 L443.0,360.17 L446.0,361.01 L449.0,361.85 L452.0,362.67 L455.0,363.46 L458.0,364.21 L461.0,364.90 L464.0,365.53 L467.0,366.11 L470.0,366.64 L473.0,367.11 L476.0,367.54 L479.0,367.92 L482.0,368.27 L485.0,368.58 L488.0,368.85 L491.0,369.10 L494.0,369.32 L497.0,369.52 L500.0,369.70 L503.0,369.86 L506.0,370.01 L509.0,370.15 L512.0,370.29 L515.0,370.42 L518.0,370.55" fill="none" stroke="#3f9a1a" stroke-width="1.8" stroke-dasharray="5.4,2.4"/>
<path d="M75.0,372.39 L78.0,372.22 L81.0,371.94 L84.0,371.56 L87.0,371.06 L90.0,370.45 L93.0,369.74 L96.0,368.91 L99.0,367.98 L102.0,366.95 L105.0,365.80 L108.0,364.56 L111.0,363.21 L114.0,361.76 L117.0,360.21 L120.0,358.56 L123.0,356.80 L126.0,354.95 L129.0,353.00 L132.0,350.96 L135.0,348.82 L138.0,346.58 L141.0,344.26 L144.0,341.86 L147.0,339.40 L150.0,336.88 L153.0,334.31 L156.0,331.70 L159.0,329.06 L162.0,326.40 L165.0,323.73 L168.0,321.06 L171.0,318.39 L174.0,315.74 L177.0,313.12 L180.0,310.54 L183.0,308.00 L186.0,305.51 L189.0,303.09 L192.0,300.74 L195.0,298.48 L198.0,296.30 L201.0,294.22 L204.0,292.24 L207.0,290.37 L210.0,288.60 L213.0,286.94 L216.0,285.41 L219.0,283.99 L222.0,282.70 L225.0,281.54 L228.0,280.50 L231.0,279.60 L234.0,278.81 L237.0,278.13 L240.0,277.55 L243.0,277.07 L246.0,276.68 L249.0,276.36 L252.0,276.11 L255.0,275.93 L258.0,275.80 L261.0,275.73 L264.0,275.71 L267.0,275.75 L270.0,275.84 L273.0,275.99 L276.0,276.20 L279.0,276.46 L282.0,276.78 L285.0,277.15 L288.0,277.59 L291.0,278.08 L294.0,278.63 L297.0,279.24 L300.0,279.90 L303.0,280.63 L306.0,281.41 L309.0,282.25 L312.0,283.15 L315.0,284.09 L318.0,285.09 L321.0,286.13 L324.0,287.21 L327.0,288.33 L330.0,289.49 L333.0,290.68 L336.0,291.90 L339.0,293.15 L342.0,294.42 L345.0,295.71 L348.0,297.01 L351.0,298.33 L354.0,299.66 L357.0,301.00 L360.0,302.34 L363.0,303.68 L366.0,305.02 L369.0,306.36 L372.0,307.69 L375.0,309.01 L378.0,310.33 L381.0,311.63 L384.0,312.93 L387.0,314.22 L390.0,315.50 L393.0,316.76 L396.0,318.01 L399.0,319.25 L402.0,320.47 L405.0,321.68 L408.0,322.87 L411.0,324.04 L414.0,325.19 L417.0,326.32 L420.0,327.44 L423.0,328.53 L426.0,329.60 L429.0,330.65 L432.0,331.68 L435.0,332.69 L438.0,333.67 L441.0,334.64 L444.0,335.59 L447.0,336.52 L450.0,337.44 L453.0,338.36 L456.0,339.27 L459.0,340.19 L462.0,341.12 L465.0,342.07 L468.0,343.03 L471.0,344.01 L474.0,345.02 L477.0,346.04 L480.0,347.06 L483.0,348.07 L486.0,349.06 L489.0,350.02 L492.0,350.94 L495.0,351.81 L498.0,352.61 L501.0,353.35 L504.0,353.99 L507.0,354.54 L510.0,354.98 L513.0,355.31 L516.0,355.51 L518.0,355.57" fill="none" stroke="#6a98f4" stroke-width="4.5" stroke-linecap="butt" stroke-linejoin="round"/>
<path d="M47.0,371.94 L50.0,372.06 L53.0,372.02 L56.0,371.83 L59.0,371.48 L62.0,370.98 L65.0,370.34 L68.0,369.56 L71.0,368.65 L74.0,367.61 L77.0,366.46 L80.0,365.18 L83.0,363.79 L86.0,362.30 L89.0,360.70 L92.0,359.01 L95.0,357.23 L98.0,355.36 L101.0,353.41 L104.0,351.39 L107.0,349.30 L110.0,347.14 L113.0,344.92 L116.0,342.64 L119.0,340.32 L122.0,337.94 L125.0,335.53 L128.0,333.08 L131.0,330.59 L134.0,328.07 L137.0,325.53 L140.0,322.96 L143.0,320.37 L146.0,317.77 L149.0,315.16 L152.0,312.54 L155.0,309.93 L158.0,307.33 L161.0,304.75 L164.0,302.19 L167.0,299.66 L170.0,297.18 L173.0,294.74 L176.0,292.35 L179.0,290.01 L182.0,287.74 L185.0,285.54 L188.0,283.41 L191.0,281.37 L194.0,279.41 L197.0,277.54 L200.0,275.77 L203.0,274.11 L206.0,272.55 L209.0,271.11 L212.0,269.79 L215.0,268.61 L218.0,267.55 L221.0,266.64 L224.0,265.87 L227.0,265.25 L230.0,264.78 L233.0,264.46 L236.0,264.27 L239.0,264.21 L242.0,264.29 L245.0,264.47 L248.0,264.78 L251.0,265.19 L254.0,265.70 L257.0,266.31 L260.0,267.00 L263.0,267.78 L266.0,268.64 L269.0,269.56 L272.0,270.56 L275.0,271.61 L278.0,272.71 L281.0,273.86 L284.0,275.05 L287.0,276.27 L290.0,277.53 L293.0,278.82 L296.0,280.13 L299.0,281.47 L302.0,282.84 L305.0,284.22 L308.0,285.63 L311.0,287.06 L314.0,288.51 L317.0,289.97 L320.0,291.44 L323.0,292.93 L326.0,294.43 L329.0,295.94 L332.0,297.45 L335.0,298.98 L338.0,300.50 L341.0,302.03 L344.0,303.56 L347.0,305.08 L350.0,306.61 L353.0,308.12 L356.0,309.64 L359.0,311.14 L362.0,312.64 L365.0,314.12 L368.0,315.59 L371.0,317.04 L374.0,318.48 L377.0,319.90 L380.0,321.30 L383.0,322.68 L386.0,324.04 L389.0,325.37 L392.0,326.67 L395.0,327.94 L398.0,329.19 L401.0,330.40 L404.0,331.57 L407.0,332.72 L410.0,333.83 L413.0,334.90 L416.0,335.95 L419.0,336.98 L422.0,337.98 L425.0,338.97 L428.0,339.94 L431.0,340.91 L434.0,341.86 L437.0,342.80 L440.0,343.73 L443.0,344.64 L446.0,345.55 L449.0,346.43 L452.0,347.31 L455.0,348.16 L458.0,349.00 L461.0,349.81 L464.0,350.61 L467.0,351.38 L470.0,352.13 L473.0,352.85 L476.0,353.55 L479.0,354.21 L482.0,354.84 L485.0,355.44 L488.0,356.00 L491.0,356.52 L494.0,357.01 L497.0,357.45 L500.0,357.85 L503.0,358.20 L506.0,358.50 L509.0,358.76 L512.0,358.96 L515.0,359.11 L518.0,359.20" fill="none" stroke="#0b0b6e" stroke-width="1.85" stroke-dasharray="9.4,3.6"/>
</g>
<line x1="160.6" y1="54.5" x2="176.2" y2="62.9" stroke="#000" stroke-width="1.1"/><polygon points="187.0,68.8 174.0,66.9 178.3,59.0" fill="#000"/>
<line x1="113.0" y1="103.6" x2="128.5" y2="112.5" stroke="#000" stroke-width="1.1"/><polygon points="139.2,118.6 126.3,116.4 130.8,108.6" fill="#000"/>
<line x1="191.4" y1="117.0" x2="178.5" y2="110.4" stroke="#000" stroke-width="1.1"/><polygon points="167.5,104.8 180.5,106.4 176.4,114.4" fill="#000"/>
<line x1="438.6" y1="94.2" x2="428.3" y2="108.9" stroke="#000" stroke-width="1.1"/><polygon points="421.3,119.0 424.6,106.3 432.0,111.5" fill="#000"/>
<line x1="143.2" y1="264.6" x2="160.2" y2="275.9" stroke="#000" stroke-width="1.1"/><polygon points="170.4,282.7 157.7,279.6 162.7,272.1" fill="#000"/>
<line x1="113.6" y1="304.4" x2="128.2" y2="316.3" stroke="#000" stroke-width="1.1"/><polygon points="137.8,324.0 125.4,319.8 131.1,312.8" fill="#000"/>
<line x1="401.9" y1="286.7" x2="389.2" y2="301.6" stroke="#000" stroke-width="1.1"/><polygon points="381.2,310.9 385.8,298.6 392.6,304.5" fill="#000"/>
<line x1="324.0" y1="339.9" x2="340.6" y2="329.9" stroke="#000" stroke-width="1.1"/><polygon points="351.2,323.6 343.0,333.8 338.3,326.1" fill="#000"/>
<g font-family="Liberation Sans, sans-serif" fill="#000"><text x="39.6" y="58.8" font-size="14" text-anchor="end" >1.0</text><text x="39.6" y="122.05" font-size="14" text-anchor="end" >0.5</text><text x="39.6" y="185.20000000000002" font-size="14" text-anchor="end" >0.0</text><text x="39.6" y="219.10000000000002" font-size="14" text-anchor="end" >0.2</text><text x="39.6" y="299.5" font-size="14" text-anchor="end" >0.1</text><text x="39.6" y="380.0" font-size="14" text-anchor="end" >0.0</text><text x="46.1" y="393.2" font-size="14" text-anchor="middle" >0</text><text x="85.4" y="393.2" font-size="14" text-anchor="middle" >1</text><text x="124.7" y="393.2" font-size="14" text-anchor="middle" >2</text><text x="164.0" y="393.2" font-size="14" text-anchor="middle" >3</text><text x="203.3" y="393.2" font-size="14" text-anchor="middle" >4</text><text x="242.6" y="393.2" font-size="14" text-anchor="middle" >5</text><text x="281.9" y="393.2" font-size="14" text-anchor="middle" >6</text><text x="321.2" y="393.2" font-size="14" text-anchor="middle" >7</text><text x="360.5" y="393.2" font-size="14" text-anchor="middle" >8</text><text x="399.8" y="393.2" font-size="14" text-anchor="middle" >9</text><text x="439.1" y="393.2" font-size="14" text-anchor="middle" >10</text><text x="478.4" y="393.2" font-size="14" text-anchor="middle" >11</text><text x="517.7" y="393.2" font-size="14" text-anchor="middle" >12</text><text x="324" y="414.8" font-size="16">Velocity</text><text x="390" y="414.8" font-size="16">km s<tspan font-size="10.5" dy="-6.5">-1</tspan></text><text transform="translate(12.4,84.5) rotate(-90)" font-size="16" text-anchor="middle">Deficit</text><text transform="translate(12.4,253.5) rotate(-90)" font-size="16" text-anchor="middle">Deficit</text><text x="324" y="33.9" font-size="14" text-anchor="start" >a) normalized to unit peak</text><text x="335" y="241" font-size="14" text-anchor="start" >b) normalized to profile</text><text x="111.3" y="57.0" font-size="14" text-anchor="start" ><tspan font-family="Liberation Serif, serif" font-size="15">β</tspan><tspan dx="0.8"> Gem</tspan></text><text x="115.5" y="73.0" font-size="14" text-anchor="start" >K0 <tspan font-family="Liberation Serif, serif" font-size="14" letter-spacing="0.35" dx="0.8">III</tspan></text><text x="71.7" y="105.9" font-size="14" text-anchor="start" ><tspan font-family="Liberation Serif, serif" font-size="15" textLength="9.2" lengthAdjust="spacingAndGlyphs">α</tspan><tspan dx="0.5"> Ser</tspan></text><text x="71" y="121.9" font-size="14" text-anchor="start" >K2 <tspan font-family="Liberation Serif, serif" font-size="14" letter-spacing="0.35" dx="0.8">III</tspan></text><text x="196.3" y="121.9" font-size="14" text-anchor="start" ><tspan font-family="Liberation Serif, serif" font-size="15">ε</tspan> Cyg</text><text x="204.5" y="138.1" font-size="14" text-anchor="start" >K0 <tspan font-family="Liberation Serif, serif" font-size="14" letter-spacing="0.35" dx="0.8">III</tspan></text><text x="429" y="71.4" font-size="14" text-anchor="start" ><tspan font-family="Liberation Serif, serif" font-size="15">β</tspan> Her</text><text x="428" y="88.7" font-size="14" text-anchor="start" >G7 <tspan font-family="Liberation Serif, serif" font-size="14" letter-spacing="0.35" dx="0.8">III</tspan>a</text><text x="100.3" y="269.7" font-size="14" text-anchor="start" ><tspan font-family="Liberation Serif, serif" font-size="15">ε</tspan> Cyg</text><text x="71.7" y="307" font-size="14" text-anchor="start" ><tspan font-family="Liberation Serif, serif" font-size="15" textLength="9.2" lengthAdjust="spacingAndGlyphs">α</tspan><tspan dx="0.5"> Ser</tspan></text><text x="392.5" y="282.6" font-size="14" text-anchor="start" ><tspan font-family="Liberation Serif, serif" font-size="15">β</tspan> Her</text><text x="273.5" y="345.9" font-size="14" text-anchor="start" ><tspan font-family="Liberation Serif, serif" font-size="15">β</tspan><tspan dx="0.8"> Gem</tspan></text></g>
</svg>
</body></html>
